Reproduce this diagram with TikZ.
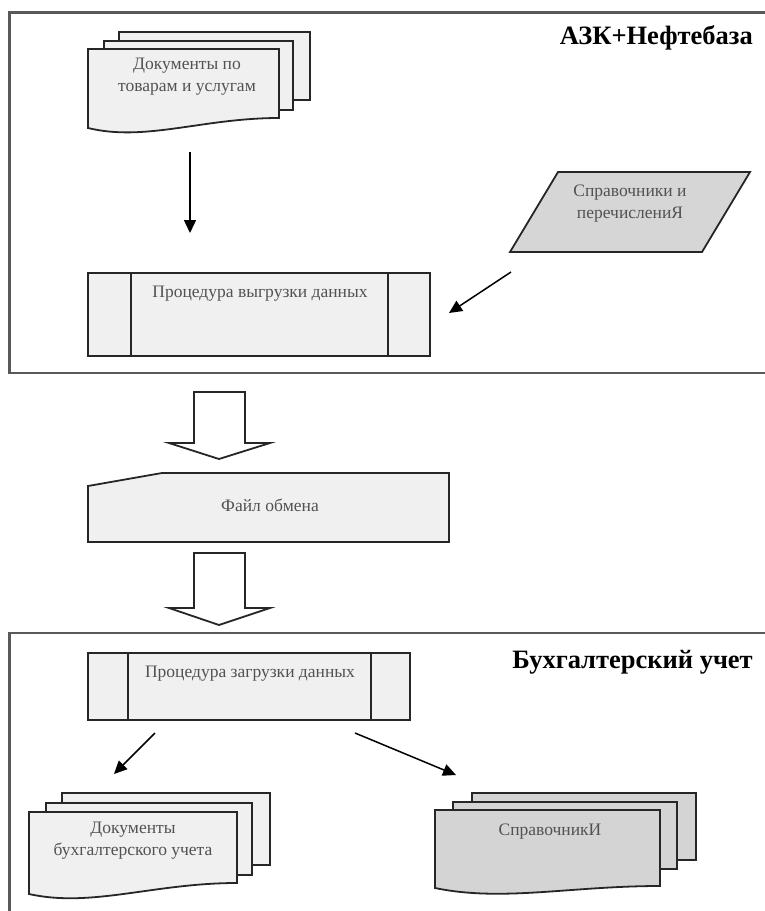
\documentclass[tikz,border=0pt]{standalone}
\usepackage{fontspec}
\setmainfont{Liberation Serif}
\usetikzlibrary{arrows.meta,calc}
\definecolor{lightfill}{gray}{0.94}
\definecolor{midfill}{gray}{0.84}
\definecolor{sprfill}{gray}{0.83}
\definecolor{txtgray}{gray}{0.32}
\definecolor{framegray}{gray}{0.35}
\tikzset{
  shapeline/.style={draw=black!85,line width=1.8pt,line join=miter},
  frameline/.style={draw=framegray,line width=2.4pt},
  lbl/.style={text=txtgray,font=\fontsize{17.5}{21}\selectfont,align=center,inner sep=0pt},
  title/.style={text=black,font=\bfseries\fontsize{26.5}{31}\selectfont,inner sep=0pt,anchor=east},
  flow/.style={draw=black,line width=1.5pt,-{Triangle[length=13pt,width=12pt]}},
  bigarrow/.style={draw=black!85,fill=white,line width=1.8pt,line join=miter}
}
\newcommand{\docshape}[6]{%
  \pgfmathsetmacro\dwA{#1+0.6*(#3-#1)}%
  \pgfmathsetmacro\dwB{#1+0.3*(#3-#1)}%
  \pgfmathsetmacro\dwC{#5+14}%
  \draw[shapeline,fill=#6] (#1,#2) -- (#3,#2) -- (#3,#4) .. controls (\dwA,#4) and (\dwB,\dwC) .. (#1,#5) -- cycle;}
\newcommand{\procbox}[6]{%
  \draw[shapeline,fill=lightfill] (#1,#2) rectangle (#3,#4);
  \draw[shapeline] (#5,#2) -- (#5,#4);
  \draw[shapeline] (#6,#2) -- (#6,#4);}
\begin{document}
\begin{tikzpicture}[x=1pt,y=-1pt]
\useasboundingbox (0,0) rectangle (765,911);
% frames
\draw[frameline] (767,12.5) -- (9.5,12.5) -- (9.5,373) -- (767,373);
\draw[frameline] (767,633) -- (9.5,633) -- (9.5,913);
\node[title] (t1) at (753,38) {АЗК+Нефтебаза};
\node[title] (t2) at (753,662) {Бухгалтерский учет};
% top documents stack
\draw[shapeline,fill=lightfill] (119,32) rectangle (310,100);
\draw[shapeline,fill=lightfill] (104,41) rectangle (293,110);
\docshape{88}{49}{279}{118}{128}{lightfill}
\node[lbl] (d1) at (187,77) {Документы по\\[1pt]товарам и услугам};
\coordinate (d1out) at (190,152);
% process out
\procbox{88}{273}{430}{356}{131}{388}
\node[lbl] (p1) at (260,294) {Процедура выгрузки данных};
\coordinate (p1in) at (190,233);
\coordinate (p1side) at (449,313);
% parallelogram
\draw[shapeline,fill=midfill] (558,172) -- (750,172) -- (702,252) -- (510,252) -- cycle;
\node[lbl] (s1) at (630,204) {Справочники и\\[1pt]перечислениЯ};
\coordinate (s1out) at (511,272);
\draw[flow] (d1out) -- (p1in);
\draw[flow] (s1out) -- (p1side);
% big arrow 1
\draw[bigarrow] (194,392) -- (245,392) -- (245,443) -- (270,443) -- (219,459) -- (169,443) -- (194,443) -- cycle;
% exchange file
\draw[shapeline,fill=lightfill] (88,486) -- (162,473) -- (449,473) -- (449,542) -- (88,542) -- cycle;
\node[lbl] (f) at (270,505) {Файл обмена};
% big arrow 2
\draw[bigarrow] (194,553) -- (245,553) -- (245,608) -- (270,608) -- (219,625) -- (169,608) -- (194,608) -- cycle;
% process in
\procbox{88}{653}{410}{720}{128}{371}
\node[lbl] (p2) at (250,674) {Процедура загрузки данных};
\coordinate (p2a) at (155,733);
\coordinate (p2b) at (355,733);
% bottom-left docs
\draw[shapeline,fill=lightfill] (62,793) rectangle (270,865);
\draw[shapeline,fill=lightfill] (46,803) rectangle (252,875);
\docshape{29}{812}{237}{883}{894}{lightfill}
\node[lbl] (d2) at (133,841) {Документы\\[1pt]бухгалтерского учета};
\coordinate (d2in) at (114,774);
% bottom-right docs
\draw[shapeline,fill=sprfill] (472,793) rectangle (696,860);
\draw[shapeline,fill=sprfill] (453,802) rectangle (677,869);
\docshape{435}{810}{660}{886}{888}{sprfill}
\node[lbl] (s2) at (550,832) {СправочникИ};
\coordinate (s2in) at (456,775);
\draw[flow] (p2a) -- (d2in);
\draw[flow] (p2b) -- (s2in);
\end{tikzpicture}
\end{document}
